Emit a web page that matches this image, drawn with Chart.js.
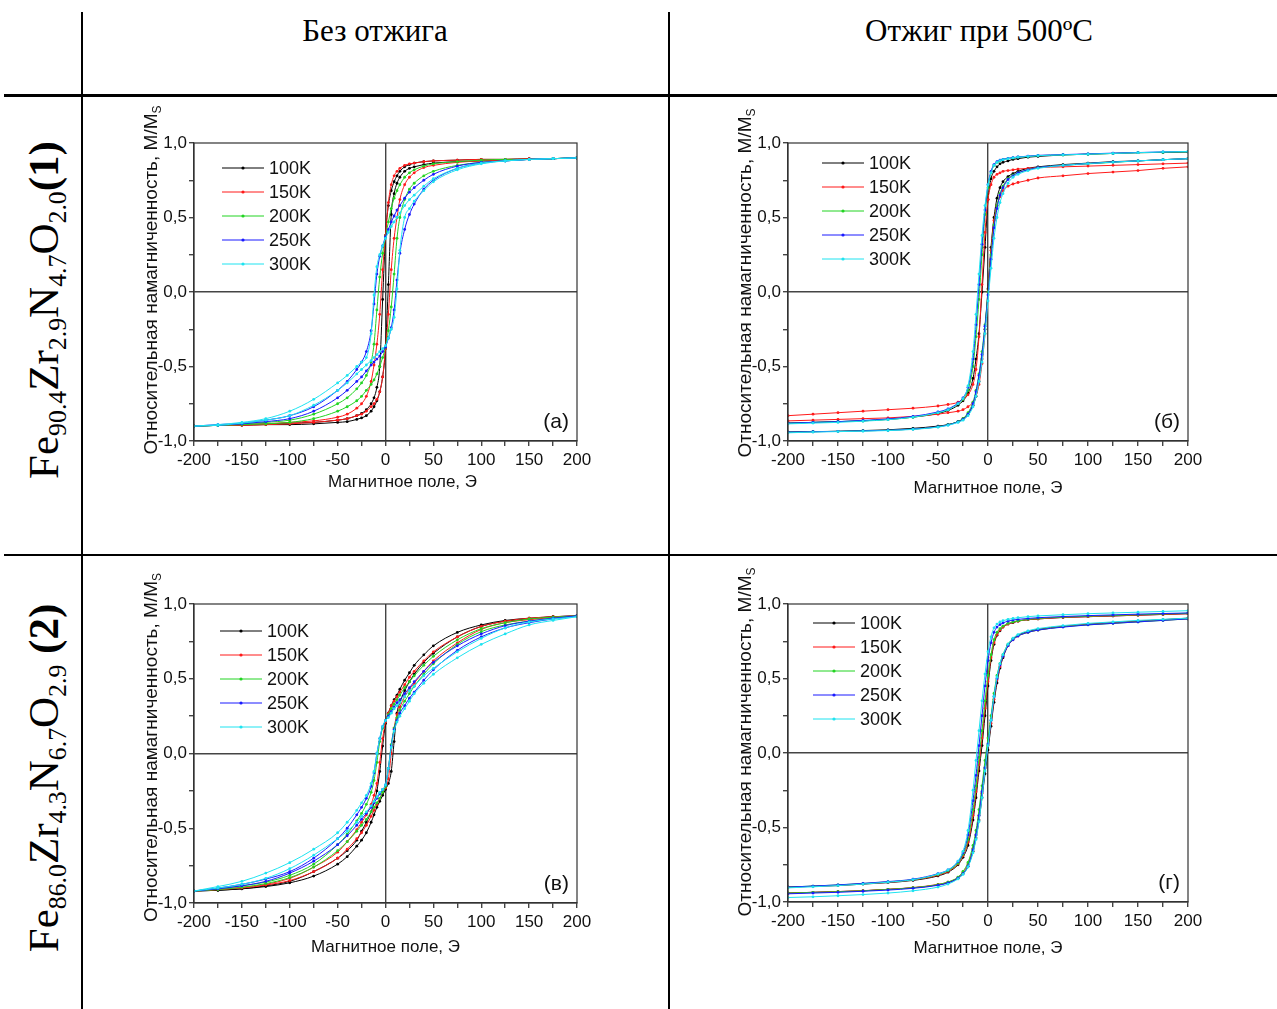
<!DOCTYPE html>
<html>
<head>
<meta charset="utf-8">
<script src="https://cdn.jsdelivr.net/npm/chart.js@4.4.1/dist/chart.umd.min.js"></script>
<style>
  body { margin: 0; background: #fff; width: 1277px; height: 1009px; position: relative; overflow: hidden; }
  .line { position: absolute; background: #000; }
  .head { position: absolute; top: 13px; transform: translateX(-50%); font: 31px "Liberation Serif", serif; white-space: nowrap; color: #000; }
  .rowlab { position: absolute; transform: translate(-50%, -50%) rotate(-90deg); white-space: nowrap; font: 43px "Liberation Serif", serif; color: #000; }
  .rowlab sub { font-size: 0.6em; vertical-align: -0.28em; }
  canvas { position: absolute; }
</style>
</head>
<body>
<div class="line" style="left:81px;top:12px;width:2px;height:997px"></div>
<div class="line" style="left:668px;top:12px;width:2px;height:997px"></div>
<div class="line" style="left:4px;top:94px;width:1273px;height:3px"></div>
<div class="line" style="left:4px;top:554px;width:1273px;height:2px"></div>

<div class="head" style="left:375px">Без отжига</div>
<div class="head" style="left:979px">Отжиг при 500ºC</div>

<div class="rowlab" style="left:46px;top:310px">Fe<sub>90.4</sub>Zr<sub>2.9</sub>N<sub>4.7</sub>O<sub>2.0</sub><b>(1)</b></div>
<div class="rowlab" style="left:46px;top:778px">Fe<sub>86.0</sub>Zr<sub>4.3</sub>N<sub>6.7</sub>O<sub>2.9</sub> <b>(2)</b></div>

<canvas id="pa" width="500" height="455" style="left:100px;top:97px"></canvas>
<canvas id="pb" width="530" height="455" style="left:690px;top:97px"></canvas>
<canvas id="pc" width="500" height="452" style="left:100px;top:557px"></canvas>
<canvas id="pd" width="530" height="452" style="left:690px;top:557px"></canvas>

<script>
// field points (Oe), shared by every branch
const field = [-200,-175,-150,-125,-100,-75,-50,-40,-30,-25,-20,-15,-12,-9,-6,-3,0,3,6,9,12,15,20,25,30,40,50,75,100,125,150,175,200];
const temps = ['100K', '150K', '200K', '250K', '300K'];
const colors = ['#000000', '#ff1a1a', '#22d422', '#1a1aff', '#1ee3f0'];

// (а) Fe90.4Zr2.9N4.7O2.0, as deposited — descending (d) and ascending (u) branches
const a100d = [-0.90,-0.895,-0.89,-0.885,-0.88,-0.875,-0.86,-0.85,-0.83,-0.815,-0.79,-0.75,-0.71,-0.64,-0.50,-0.05,0.38,0.58,0.68,0.74,0.78,0.81,0.84,0.855,0.865,0.875,0.88,0.885,0.89,0.89,0.895,0.895,0.90];
const a100u = [-0.90,-0.895,-0.895,-0.89,-0.89,-0.885,-0.875,-0.87,-0.855,-0.845,-0.83,-0.80,-0.77,-0.73,-0.67,-0.57,-0.38,0.05,0.52,0.66,0.73,0.77,0.81,0.83,0.84,0.855,0.865,0.875,0.88,0.885,0.89,0.895,0.90];
const a150d = [-0.90,-0.895,-0.89,-0.885,-0.875,-0.865,-0.84,-0.82,-0.78,-0.75,-0.70,-0.60,-0.49,-0.35,-0.15,0.15,0.38,0.60,0.72,0.78,0.81,0.83,0.85,0.86,0.865,0.875,0.88,0.885,0.89,0.89,0.895,0.895,0.90];
const a150u = [-0.90,-0.895,-0.895,-0.89,-0.885,-0.875,-0.86,-0.85,-0.83,-0.82,-0.80,-0.77,-0.75,-0.72,-0.67,-0.57,-0.38,-0.15,0.15,0.36,0.50,0.62,0.72,0.77,0.80,0.835,0.85,0.87,0.88,0.885,0.89,0.895,0.90];
const a200d = [-0.90,-0.895,-0.885,-0.875,-0.86,-0.82,-0.75,-0.71,-0.65,-0.61,-0.56,-0.47,-0.35,-0.12,0.10,0.26,0.37,0.47,0.56,0.63,0.68,0.72,0.77,0.80,0.82,0.845,0.86,0.875,0.885,0.89,0.89,0.895,0.90];
const a200u = [-0.90,-0.895,-0.89,-0.885,-0.875,-0.85,-0.80,-0.77,-0.73,-0.70,-0.66,-0.62,-0.59,-0.55,-0.50,-0.44,-0.37,-0.26,-0.10,0.12,0.36,0.50,0.62,0.69,0.73,0.78,0.81,0.85,0.87,0.88,0.89,0.895,0.90];
const a250d = [-0.90,-0.89,-0.88,-0.86,-0.83,-0.77,-0.66,-0.60,-0.52,-0.47,-0.40,-0.26,-0.08,0.12,0.24,0.31,0.37,0.42,0.47,0.51,0.55,0.58,0.63,0.67,0.70,0.75,0.79,0.845,0.87,0.88,0.89,0.895,0.90];
const a250u = [-0.90,-0.895,-0.885,-0.87,-0.85,-0.80,-0.71,-0.66,-0.60,-0.57,-0.53,-0.49,-0.47,-0.45,-0.43,-0.40,-0.37,-0.31,-0.24,-0.12,0.08,0.26,0.42,0.52,0.59,0.69,0.75,0.83,0.865,0.88,0.89,0.895,0.90];
const a300d = [-0.90,-0.89,-0.875,-0.85,-0.80,-0.72,-0.61,-0.56,-0.50,-0.47,-0.44,-0.28,-0.02,0.17,0.25,0.31,0.36,0.40,0.44,0.47,0.50,0.53,0.58,0.62,0.65,0.71,0.76,0.83,0.865,0.88,0.89,0.895,0.90];
const a300u = [-0.90,-0.895,-0.88,-0.86,-0.83,-0.76,-0.66,-0.61,-0.55,-0.52,-0.49,-0.46,-0.44,-0.42,-0.40,-0.38,-0.36,-0.31,-0.25,-0.17,0.02,0.28,0.50,0.56,0.61,0.68,0.74,0.82,0.86,0.88,0.89,0.895,0.90];

// (б) Fe90.4Zr2.9N4.7O2.0, annealed at 500 C
const b100d = [-0.88,-0.875,-0.87,-0.865,-0.855,-0.84,-0.815,-0.795,-0.76,-0.73,-0.68,-0.58,-0.45,-0.28,0.0,0.30,0.62,0.76,0.81,0.84,0.86,0.87,0.88,0.89,0.895,0.905,0.91,0.92,0.925,0.93,0.935,0.937,0.94];
const b100u = [-0.94,-0.937,-0.935,-0.93,-0.925,-0.915,-0.90,-0.89,-0.87,-0.85,-0.82,-0.76,-0.70,-0.60,-0.45,-0.25,0.02,0.30,0.50,0.63,0.70,0.74,0.775,0.795,0.81,0.83,0.84,0.855,0.865,0.875,0.88,0.888,0.895];
const b150d = [-0.83,-0.82,-0.81,-0.80,-0.79,-0.78,-0.765,-0.755,-0.74,-0.72,-0.69,-0.62,-0.52,-0.30,0.05,0.40,0.62,0.72,0.77,0.79,0.80,0.81,0.815,0.82,0.825,0.83,0.835,0.84,0.845,0.85,0.855,0.86,0.865];
const b150u = [-0.865,-0.86,-0.855,-0.85,-0.845,-0.835,-0.82,-0.81,-0.80,-0.79,-0.77,-0.74,-0.70,-0.62,-0.48,-0.28,0.0,0.28,0.48,0.58,0.64,0.68,0.71,0.725,0.735,0.75,0.765,0.78,0.795,0.805,0.815,0.83,0.84];
const b200d = [-0.88,-0.875,-0.87,-0.865,-0.855,-0.84,-0.81,-0.79,-0.75,-0.72,-0.66,-0.50,-0.30,-0.05,0.25,0.52,0.70,0.80,0.85,0.87,0.88,0.89,0.895,0.90,0.905,0.91,0.915,0.92,0.925,0.93,0.935,0.937,0.94];
const b200u = [-0.94,-0.938,-0.935,-0.932,-0.928,-0.92,-0.905,-0.89,-0.87,-0.85,-0.81,-0.74,-0.66,-0.55,-0.40,-0.22,0.0,0.25,0.45,0.58,0.66,0.71,0.76,0.785,0.80,0.82,0.835,0.85,0.86,0.87,0.88,0.888,0.895];
const b250d = [-0.88,-0.875,-0.87,-0.862,-0.852,-0.835,-0.805,-0.785,-0.745,-0.71,-0.64,-0.45,-0.22,0.05,0.32,0.55,0.72,0.81,0.855,0.875,0.885,0.89,0.897,0.902,0.906,0.912,0.917,0.922,0.927,0.932,0.936,0.94,0.942];
const b250u = [-0.94,-0.938,-0.935,-0.932,-0.928,-0.92,-0.905,-0.892,-0.872,-0.855,-0.82,-0.75,-0.67,-0.56,-0.42,-0.23,-0.02,0.22,0.43,0.56,0.65,0.70,0.755,0.78,0.80,0.82,0.835,0.85,0.862,0.872,0.88,0.888,0.895];
const b300d = [-0.885,-0.88,-0.875,-0.867,-0.857,-0.84,-0.81,-0.79,-0.75,-0.715,-0.63,-0.40,-0.15,0.12,0.38,0.58,0.72,0.80,0.85,0.87,0.882,0.888,0.895,0.90,0.905,0.91,0.915,0.92,0.925,0.93,0.935,0.94,0.943];
const b300u = [-0.945,-0.94,-0.937,-0.934,-0.93,-0.922,-0.907,-0.895,-0.875,-0.86,-0.83,-0.77,-0.70,-0.60,-0.47,-0.28,-0.06,0.16,0.36,0.50,0.60,0.66,0.73,0.77,0.79,0.815,0.83,0.85,0.862,0.872,0.88,0.888,0.895];

// (в) Fe86.0Zr4.3N6.7O2.9, as deposited
const c100d = [-0.92,-0.915,-0.905,-0.885,-0.855,-0.79,-0.70,-0.65,-0.58,-0.52,-0.46,-0.39,-0.33,-0.25,-0.12,0.05,0.20,0.27,0.32,0.36,0.39,0.43,0.49,0.54,0.59,0.66,0.72,0.81,0.86,0.89,0.905,0.915,0.92];
const c100u = [-0.92,-0.915,-0.905,-0.89,-0.865,-0.82,-0.74,-0.69,-0.62,-0.58,-0.53,-0.46,-0.41,-0.36,-0.32,-0.28,-0.24,-0.20,-0.12,0.08,0.27,0.34,0.42,0.48,0.53,0.61,0.67,0.78,0.85,0.885,0.90,0.915,0.92];
const c150d = [-0.92,-0.91,-0.895,-0.875,-0.835,-0.76,-0.66,-0.59,-0.51,-0.46,-0.41,-0.34,-0.28,-0.20,-0.06,0.10,0.21,0.27,0.32,0.35,0.38,0.41,0.46,0.51,0.55,0.62,0.68,0.78,0.85,0.885,0.905,0.915,0.92];
const c150u = [-0.92,-0.91,-0.90,-0.88,-0.85,-0.79,-0.70,-0.64,-0.57,-0.53,-0.48,-0.42,-0.38,-0.34,-0.30,-0.26,-0.23,-0.17,0.0,0.17,0.26,0.31,0.38,0.43,0.47,0.55,0.62,0.74,0.83,0.875,0.895,0.91,0.92];
const c200d = [-0.92,-0.905,-0.885,-0.86,-0.815,-0.74,-0.61,-0.54,-0.45,-0.40,-0.34,-0.26,-0.18,-0.06,0.08,0.17,0.22,0.26,0.30,0.33,0.36,0.39,0.44,0.48,0.52,0.59,0.65,0.76,0.835,0.875,0.90,0.912,0.92];
const c200u = [-0.92,-0.91,-0.895,-0.87,-0.83,-0.76,-0.65,-0.59,-0.52,-0.48,-0.44,-0.39,-0.36,-0.33,-0.30,-0.26,-0.22,-0.10,0.06,0.17,0.24,0.29,0.35,0.40,0.45,0.53,0.60,0.73,0.815,0.86,0.885,0.905,0.92];
const c250d = [-0.92,-0.90,-0.875,-0.84,-0.79,-0.70,-0.57,-0.50,-0.41,-0.36,-0.30,-0.22,-0.13,0.0,0.10,0.18,0.22,0.25,0.28,0.31,0.34,0.36,0.40,0.44,0.48,0.55,0.61,0.72,0.80,0.855,0.885,0.905,0.92];
const c250u = [-0.92,-0.905,-0.885,-0.855,-0.80,-0.72,-0.61,-0.55,-0.48,-0.44,-0.40,-0.36,-0.33,-0.30,-0.27,-0.24,-0.21,-0.10,0.05,0.16,0.22,0.27,0.32,0.37,0.41,0.49,0.56,0.69,0.78,0.84,0.875,0.90,0.92];
const c300d = [-0.92,-0.89,-0.855,-0.80,-0.73,-0.64,-0.53,-0.46,-0.38,-0.33,-0.28,-0.20,-0.12,0.0,0.10,0.18,0.22,0.24,0.27,0.30,0.32,0.34,0.38,0.42,0.45,0.52,0.57,0.68,0.77,0.84,0.88,0.90,0.915];
const c300u = [-0.92,-0.90,-0.875,-0.835,-0.77,-0.68,-0.57,-0.52,-0.46,-0.42,-0.39,-0.35,-0.32,-0.29,-0.26,-0.24,-0.21,-0.10,0.04,0.15,0.21,0.25,0.30,0.35,0.40,0.47,0.53,0.64,0.73,0.80,0.86,0.89,0.915];

// (г) Fe86.0Zr4.3N6.7O2.9, annealed at 500 C
const d100d = [-0.90,-0.895,-0.89,-0.88,-0.87,-0.855,-0.825,-0.80,-0.75,-0.70,-0.62,-0.45,-0.30,-0.12,0.05,0.25,0.45,0.62,0.73,0.79,0.82,0.845,0.865,0.875,0.885,0.895,0.90,0.91,0.915,0.92,0.925,0.93,0.935];
const d100u = [-0.94,-0.935,-0.93,-0.925,-0.915,-0.905,-0.885,-0.87,-0.84,-0.81,-0.76,-0.66,-0.57,-0.45,-0.30,-0.14,0.02,0.18,0.34,0.47,0.57,0.64,0.72,0.765,0.79,0.815,0.83,0.85,0.865,0.875,0.885,0.895,0.905];
const d150d = [-0.90,-0.895,-0.888,-0.878,-0.868,-0.852,-0.82,-0.795,-0.745,-0.69,-0.60,-0.42,-0.26,-0.08,0.10,0.30,0.48,0.64,0.74,0.795,0.825,0.845,0.865,0.877,0.885,0.895,0.90,0.91,0.915,0.92,0.925,0.93,0.935];
const d150u = [-0.94,-0.935,-0.93,-0.924,-0.915,-0.903,-0.882,-0.866,-0.835,-0.80,-0.745,-0.64,-0.55,-0.42,-0.27,-0.10,0.05,0.20,0.36,0.49,0.58,0.65,0.72,0.76,0.785,0.81,0.825,0.848,0.862,0.872,0.882,0.892,0.90];
const d200d = [-0.90,-0.893,-0.886,-0.876,-0.865,-0.85,-0.815,-0.79,-0.74,-0.68,-0.58,-0.38,-0.22,-0.03,0.15,0.35,0.52,0.66,0.76,0.81,0.835,0.852,0.87,0.88,0.887,0.897,0.903,0.912,0.918,0.923,0.928,0.933,0.938];
const d200u = [-0.94,-0.936,-0.931,-0.925,-0.916,-0.904,-0.883,-0.866,-0.833,-0.795,-0.735,-0.62,-0.52,-0.38,-0.22,-0.05,0.10,0.25,0.40,0.52,0.60,0.66,0.73,0.765,0.787,0.81,0.825,0.847,0.86,0.87,0.88,0.89,0.90];
const d250d = [-0.90,-0.893,-0.885,-0.875,-0.863,-0.847,-0.81,-0.785,-0.73,-0.67,-0.55,-0.32,-0.15,0.05,0.25,0.45,0.62,0.74,0.81,0.845,0.862,0.873,0.885,0.892,0.897,0.903,0.908,0.916,0.922,0.927,0.932,0.936,0.94];
const d250u = [-0.945,-0.94,-0.935,-0.928,-0.92,-0.908,-0.888,-0.872,-0.84,-0.81,-0.76,-0.65,-0.55,-0.42,-0.26,-0.10,0.06,0.22,0.38,0.50,0.59,0.65,0.72,0.76,0.785,0.81,0.825,0.845,0.86,0.87,0.88,0.89,0.90];
const d300d = [-0.905,-0.898,-0.89,-0.88,-0.867,-0.85,-0.812,-0.785,-0.725,-0.66,-0.52,-0.25,-0.05,0.15,0.35,0.53,0.68,0.78,0.84,0.865,0.88,0.888,0.897,0.903,0.908,0.915,0.92,0.928,0.935,0.94,0.945,0.95,0.955];
const d300u = [-0.97,-0.965,-0.958,-0.95,-0.94,-0.925,-0.90,-0.88,-0.845,-0.815,-0.765,-0.67,-0.58,-0.46,-0.30,-0.12,0.05,0.22,0.38,0.51,0.60,0.66,0.73,0.77,0.795,0.82,0.835,0.855,0.87,0.88,0.89,0.897,0.905];

const sans = '"Liberation Sans", Arial, sans-serif';

// frame, inset legend, panel letter and both axis titles
const panelDecor = {
  id: 'panelDecor',
  afterDraw(chart, args, o) {
    const { ctx, chartArea: a } = chart;
    ctx.save();
    ctx.strokeStyle = '#333';
    ctx.lineWidth = 1.2;
    ctx.strokeRect(a.left, a.top, a.right - a.left, a.bottom - a.top);

    ctx.font = '18px ' + sans;
    ctx.textBaseline = 'middle';
    ctx.textAlign = 'left';
    temps.forEach((t, i) => {
      const y = a.top + o.legY + i * 24;
      const x = a.left + o.legX;
      ctx.strokeStyle = colors[i];
      ctx.lineWidth = 1;
      ctx.beginPath();
      ctx.moveTo(x, y);
      ctx.lineTo(x + 42, y);
      ctx.stroke();
      ctx.fillStyle = colors[i];
      ctx.beginPath();
      ctx.arc(x + 21, y, 1.6, 0, Math.PI * 2);
      ctx.fill();
      ctx.fillStyle = '#111';
      ctx.fillText(t, x + 47, y + 1);
    });

    ctx.font = '21px ' + sans;
    ctx.textAlign = 'right';
    ctx.fillText(o.letter, a.right - 8, a.bottom - 19);

    ctx.font = '17px ' + sans;
    ctx.textAlign = 'center';
    ctx.fillText('Магнитное поле, Э', (a.left + a.right) / 2 + o.xtDx, a.bottom + o.xtDy);

    ctx.translate(a.left - 42, (a.top + a.bottom) / 2 + o.ytDy);
    ctx.rotate(-Math.PI / 2);
    const main = 'Относительная намагниченность, M/M';
    ctx.font = '19px ' + sans;
    const w1 = ctx.measureText(main).width;
    ctx.font = '12px ' + sans;
    const w2 = ctx.measureText('S').width;
    const x0 = -(w1 + w2) / 2;
    ctx.textAlign = 'left';
    ctx.font = '19px ' + sans;
    ctx.fillText(main, x0, 0);
    ctx.font = '12px ' + sans;
    ctx.fillText('S', x0 + w1, 6);
    ctx.restore();
  }
};

function series(down, up) {
  const sets = [];
  temps.forEach((t, i) => {
    [down[i], up[i]].forEach(vals => {
      sets.push({
        label: t,
        data: field.map((h, j) => ({ x: h, y: vals[j] })),
        borderColor: colors[i],
        backgroundColor: colors[i],
        borderWidth: 1,
        pointRadius: 1.4,
        pointBorderWidth: 0,
        cubicInterpolationMode: 'monotone',
        order: temps.length - i
      });
    });
  });
  return sets;
}

function zeroLine(c) {
  return c.tick && Math.abs(c.tick.value) < 1e-9 ? '#444' : 'rgba(0,0,0,0)';
}

function panel(id, area, deco, down, up) {
  const cv = document.getElementById(id);
  new Chart(cv, {
    type: 'line',
    data: { datasets: series(down, up) },
    options: {
      responsive: false,
      animation: false,
      devicePixelRatio: 1,
      events: [],
      layout: { padding: { left: 0, top: area.top, right: cv.width - area.right, bottom: 0 } },
      plugins: { legend: { display: false }, tooltip: { enabled: false }, panelDecor: deco },
      scales: {
        x: {
          type: 'linear', min: -200, max: 200,
          ticks: {
            stepSize: 25, autoSkip: false, maxRotation: 0, padding: 4, color: '#111',
            font: { family: sans, size: 17 },
            callback: v => Math.round(v) % 50 === 0 ? String(v) : ''
          },
          grid: { color: zeroLine, lineWidth: 1.4, tickColor: '#444', tickLength: 5 },
          border: { color: '#333', width: 1.2 },
          afterFit: s => { s.height = cv.height - area.bottom; }
        },
        y: {
          min: -1, max: 1,
          ticks: {
            stepSize: 0.25, autoSkip: false, padding: 2, color: '#111',
            font: { family: sans, size: 17 },
            callback: v => Math.round(v * 4) % 2 === 0 ? v.toFixed(1).replace('.', ',') : ''
          },
          grid: { color: zeroLine, lineWidth: 1.4, tickColor: '#444', tickLength: 5 },
          border: { color: '#333', width: 1.2 },
          afterFit: s => { s.width = area.left; }
        }
      }
    },
    plugins: [panelDecor]
  });
}

panel('pa', { left: 94, right: 477, top: 46, bottom: 344 },
  { letter: '(а)', legX: 28, legY: 25, xtDx: 17, xtDy: 41, ytDy: -12 },
  [a100d, a150d, a200d, a250d, a300d], [a100u, a150u, a200u, a250u, a300u]);
panel('pb', { left: 98, right: 498, top: 46, bottom: 344 },
  { letter: '(б)', legX: 34, legY: 20, xtDx: 0, xtDy: 47, ytDy: -9 },
  [b100d, b150d, b200d, b250d, b300d], [b100u, b150u, b200u, b250u, b300u]);
panel('pc', { left: 94, right: 477, top: 47, bottom: 346 },
  { letter: '(в)', legX: 26, legY: 27, xtDx: 0, xtDy: 44, ytDy: -6 },
  [c100d, c150d, c200d, c250d, c300d], [c100u, c150u, c200u, c250u, c300u]);
panel('pd', { left: 98, right: 498, top: 47, bottom: 345 },
  { letter: '(г)', legX: 25, legY: 19, xtDx: 0, xtDy: 46, ytDy: -11 },
  [d100d, d150d, d200d, d250d, d300d], [d100u, d150u, d200u, d250u, d300u]);
</script>
</body>
</html>
